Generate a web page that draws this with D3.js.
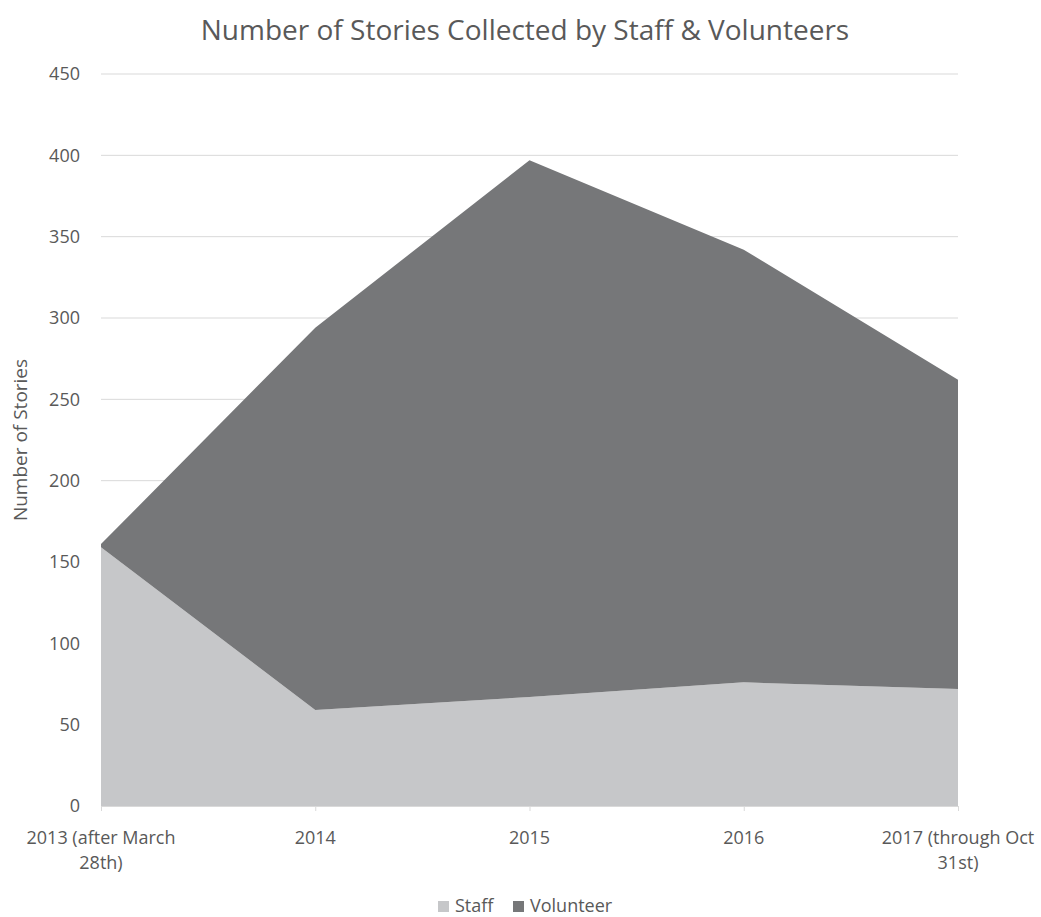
<!DOCTYPE html>
<html>
<head>
<meta charset="utf-8">
<script src="https://cdn.jsdelivr.net/npm/d3@7"></script>
<style>
  body { margin: 0; background: #fff; }
  svg text { font-family: "Open Sans", sans-serif; fill: #595959; }
</style>
</head>
<body>
<svg id="chart"></svg>
<script>
const categories = ["2013 (after March 28th)", "2014", "2015", "2016", "2017 (through Oct 31st)"];
const categoryLines = [["2013 (after March", "28th)"], ["2014"], ["2015"], ["2016"], ["2017 (through Oct", "31st)"]];
const staff = [159, 59, 67, 76, 72];
const volunteer = [2, 235, 330, 266, 190];
const seriesNames = ["Staff", "Volunteer"];
const yTicks = [0, 50, 100, 150, 200, 250, 300, 350, 400, 450];

const width = 1041;
const height = 917;
const colors = {Staff: "#c6c7c9", Volunteer: "#767779"};

const svg = d3.select("#chart")
  .attr("width", width)
  .attr("height", height);

const xscale = d3.scalePoint()
  .domain(categories)
  .range([101, 958]);

const yscale = d3.scaleLinear()
  .domain([0, 450])
  .range([806, 74]);

// gridlines
svg.append("g")
  .selectAll("line").data(yTicks).enter().append("line")
  .attr("x1", 101).attr("x2", 958)
  .attr("y1", d => yscale(d)).attr("y2", d => yscale(d))
  .attr("stroke", "#d9d9d9")
  .attr("stroke-width", 1);

// stacked areas
const rows = categories.map((c, i) => ({cat: c, Staff: staff[i], Volunteer: volunteer[i]}));
const stack = d3.stack().keys(seriesNames);
const layers = stack(rows);

const area = d3.area()
  .x(d => xscale(d.data.cat))
  .y0(d => yscale(d[0]))
  .y1(d => yscale(d[1]));

svg.append("g")
  .selectAll("path").data(layers).enter().append("path")
  .attr("d", area)
  .attr("fill", d => colors[d.key]);

// x axis
const xaxis = d3.axisBottom(xscale).tickSize(5).tickFormat("");
const xg = svg.append("g")
  .attr("transform", "translate(0, 806)")
  .call(xaxis);
xg.select(".domain").attr("stroke", "#d9d9d9");
xg.selectAll(".tick line").attr("stroke", "#d9d9d9");

svg.append("g")
  .selectAll("text").data(categories).enter().append("text")
  .attr("x", d => xscale(d))
  .attr("y", 844)
  .attr("text-anchor", "middle")
  .attr("font-size", "18px")
  .each(function(d, i) {
    const lines = categoryLines[i];
    d3.select(this).selectAll("tspan").data(lines).enter().append("tspan")
      .attr("x", xscale(d))
      .attr("dy", (l, j) => j === 0 ? 0 : 25)
      .text(l => l);
  });

// y axis
const yaxis = d3.axisLeft(yscale).tickValues(yTicks).tickSize(0).tickPadding(21);
const yg = svg.append("g")
  .attr("transform", "translate(101, 0)")
  .call(yaxis);
yg.select(".domain").remove();
yg.selectAll("text")
  .attr("font-size", "18px")
  .attr("font-family", "Open Sans, sans-serif")
  .attr("fill", "#595959");

svg.append("text")
  .attr("transform", "translate(27, 440) rotate(-90)")
  .attr("text-anchor", "middle")
  .attr("font-size", "19px")
  .text("Number of Stories");

// title
svg.append("text")
  .attr("x", 525)
  .attr("y", 40)
  .attr("text-anchor", "middle")
  .attr("font-size", "28px")
  .text("Number of Stories Collected by Staff & Volunteers");

// legend
const legendX = [438, 513];
const legend = svg.append("g");
legend.selectAll("rect").data(seriesNames).enter().append("rect")
  .attr("x", (d, i) => legendX[i])
  .attr("y", 901)
  .attr("width", 11).attr("height", 11)
  .attr("fill", d => colors[d]);
legend.selectAll("text").data(seriesNames).enter().append("text")
  .attr("x", (d, i) => legendX[i] + 17)
  .attr("y", 912)
  .attr("font-size", "18px")
  .text(d => d);
</script>
</body>
</html>
